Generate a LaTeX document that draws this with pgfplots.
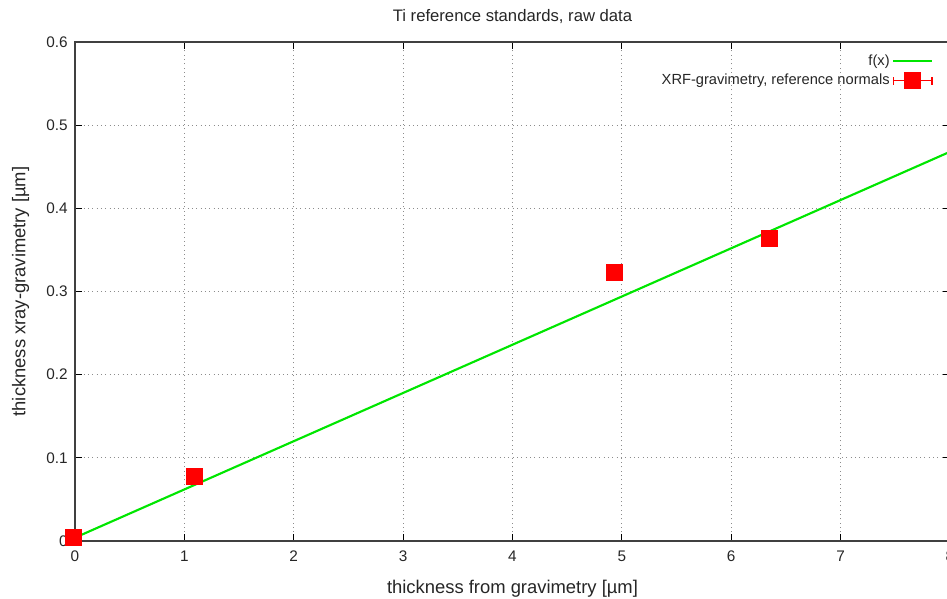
\documentclass[border=0pt]{standalone}
\usepackage{fontspec}
\setmainfont{Liberation Sans}
\usepackage{pgfplots}
\pgfplotsset{compat=1.18}

\definecolor{fgreen}{RGB}{0,230,0}
\definecolor{fred}{RGB}{255,0,0}

\begin{document}
\begin{tikzpicture}
\begin{axis}[
    name=ax,
    scale only axis,
    width=656.25pt, height=374.25pt,
    xmin=0, xmax=8,
    ymin=0, ymax=0.6,
    xtick={0,1,...,8},
    ytick={0,0.1,0.2,0.3,0.4,0.5,0.6},
    yticklabels={0,0.1,0.2,0.3,0.4,0.5,0.6},
    /pgf/number format/assume math mode=true,
    tick label style={font=\fontsize{11.5}{13}\selectfont, text=black!85},
    xticklabel style={yshift=-4pt},
    yticklabel style={xshift=-2pt},
    tick align=inside,
    major tick length=5pt,
    major tick style={black, line width=0.8pt},
    axis line style={black!75, line width=1pt},
    grid=major,
    grid style={black!45, line width=0.75pt, dash pattern=on 0.75pt off 2.5pt},
    title={Ti reference standards, raw data},
    title style={font=\fontsize{12.5}{14}\selectfont, text=black!85, yshift=4pt},
    xlabel={thickness from gravimetry [µm]},
    ylabel={thickness xray-gravimetry [µm]},
    label style={font=\fontsize{13.8}{15}\selectfont, text=black!85},
    xlabel style={yshift=-7pt},
    ylabel style={yshift=6pt},
    clip=false,
    legend plot pos=right,
    legend cell align=right,
    legend style={draw=none, fill=none, at={(0.9856,0.985)}, anchor=north east,
        font=\fontsize{11}{13}\selectfont, text=black!85, row sep=1pt},
]
\addplot[fgreen, line width=1.6pt,
    legend image code/.code={\draw[fgreen, line width=1.6pt] (7pt,0pt) -- (36pt,0pt);}]
    coordinates {(0,0.004) (8,0.468)};
\addlegendentry{f(x)}

\addplot[fred, only marks, mark=square*, mark size=6pt,
    mark options={fill=fred, draw=fred},
    error bars/.cd, y dir=both, y explicit,
    error bar style={fred, line width=1pt},
    error mark options={fred, rotate=90, mark size=3pt, line width=1pt},
    /pgfplots/legend image code/.code={
        \draw[fred, line width=1pt] (7pt,0pt) -- (36pt,0pt);
        \draw[fred, line width=1pt] (7pt,-3pt) -- (7pt,3pt) (36pt,-3pt) -- (36pt,3pt);
        \fill[fred] (15.5pt,-6pt) rectangle (27.5pt,6pt);}]
    table[x=x, y=y, y error=e] {
    x     y      e
    -0.02 0.004  0.005
    1.09  0.078  0.005
    4.93  0.323  0.009
    6.35  0.364  0.005
    };
\addlegendentry{XRF-gravimetry, reference normals}
\end{axis}
\pgfresetboundingbox
\useasboundingbox ([xshift=-56.25pt, yshift=-43.5pt]ax.south west) rectangle ([xshift=-2.25pt, yshift=31.5pt]ax.north east);
\end{tikzpicture}
\end{document}
